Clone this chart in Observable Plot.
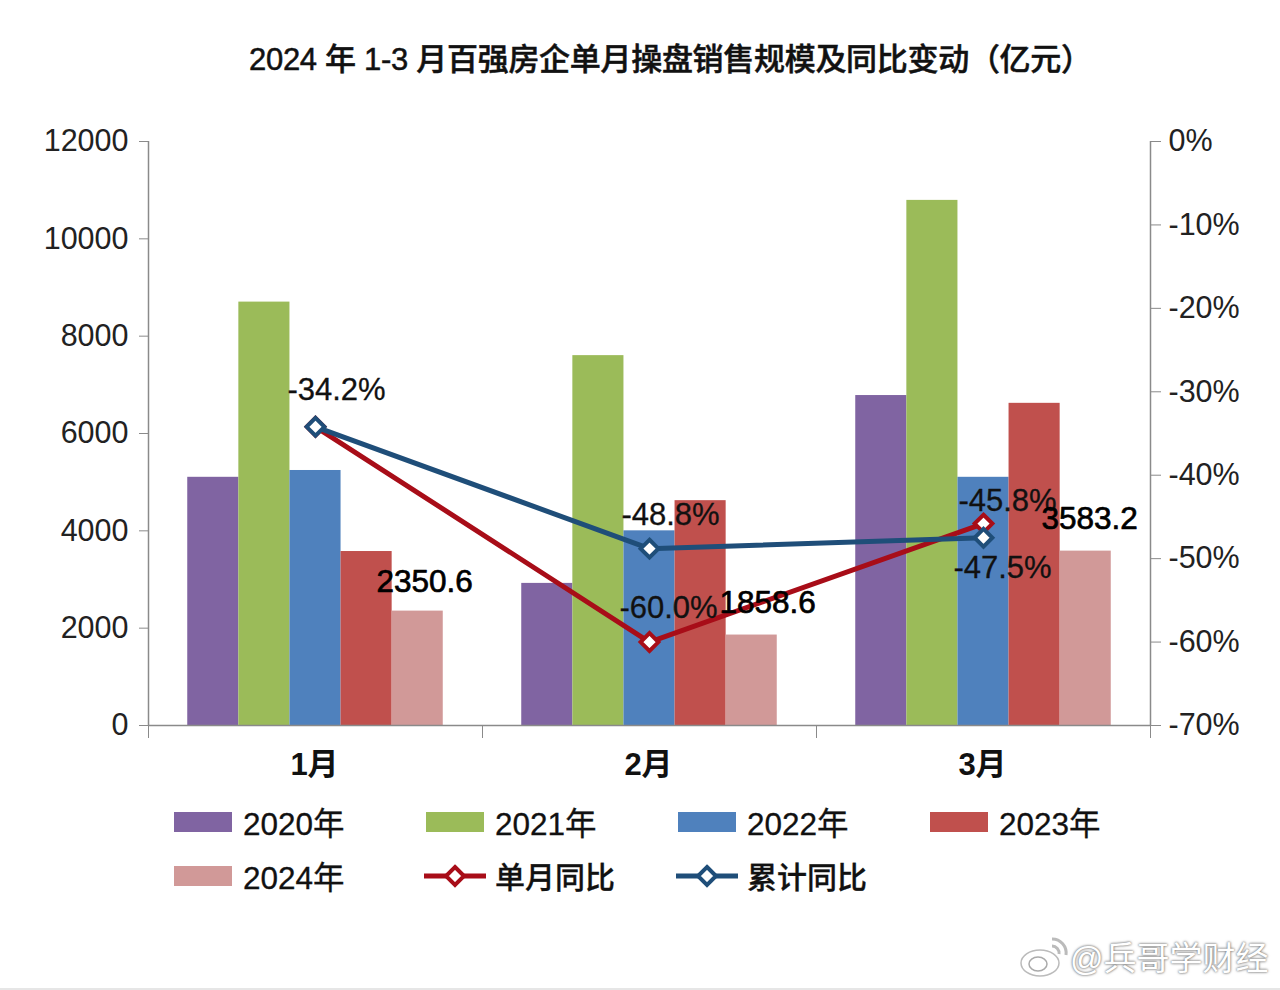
<!DOCTYPE html>
<html><head><meta charset="utf-8">
<script src="https://cdn.jsdelivr.net/npm/d3@7"></script>
<script src="https://cdn.jsdelivr.net/npm/@observablehq/plot@0.6"></script>
<style>
html,body{margin:0;padding:0;background:#fff;}
#page{position:relative;width:1280px;height:990px;overflow:hidden;font-family:"Liberation Sans","Noto Sans CJK SC",sans-serif;color:#111;}
#title{height:100px;box-sizing:border-box;padding-top:38px;padding-left:249px;font-size:31px;line-height:44px;font-weight:500;white-space:pre;font-family:"Liberation Sans","Noto Sans CJK SC",sans-serif;letter-spacing:-.3px;-webkit-text-stroke:.5px #111;}
#chart svg{display:block;}
#legend{position:relative;height:200px;}
.it{position:absolute;display:flex;align-items:center;height:36px;font-size:31.5px;white-space:nowrap;-webkit-text-stroke:.3px #111;}
.it span{position:relative;top:-1px;}
.sw{width:58px;height:20px;margin-right:11px;flex:none;}
.lsw{width:64px;height:30px;margin-right:8px;flex:none;display:block;}
#wm{position:absolute;left:1020px;top:934px;display:flex;align-items:center;height:44px;font-size:33px;color:#fff;text-shadow:0 0 3px #777,0 0 2px #888;white-space:nowrap;}
#bl{position:absolute;left:0;top:988px;width:1280px;height:2px;background:#e6e6e6;}
</style></head>
<body>
<div id="page">
<div id="title"></div>
<div id="chart"></div>
<div id="legend"></div>
<div id="wm"></div>
<div id="bl"></div>
</div>
<script>
const titleText = "2024 年 1-3 月百强房企单月操盘销售规模及同比变动（亿元）";
const months = ["1月","2月","3月"];
const years = ["2020年","2021年","2022年","2023年","2024年"];
const barColors = ["#8064A2","#9BBB59","#4F81BD","#C0504D","#D19998"];
const v2020 = [5100,2920,6780];
const v2021 = [8700,7600,10790];
const v2022 = [5240,4000,5100];
const v2023 = [3575,4620,6620];
const v2024 = [2350.6,1858.6,3583.2];
const singleYoY = [-34.2,-60.0,-45.8];
const cumYoY = [-34.2,-48.8,-47.5];
const leftTicks = [0,2000,4000,6000,8000,10000,12000];
const pctTicks = [-70,-60,-50,-40,-30,-20,-10,0];
const lineRed = "#A80D18", lineBlue = "#1F4E79";
const seriesNames = ["单月同比","累计同比"];

const FONT = '"Liberation Sans","Noto Sans CJK SC",sans-serif';
const yMax = 12000;
const pctToY = p => (p + 70) / 70 * yMax;
const yToPct = v => Math.round(v / yMax * 70 - 70);
const barW = 0.153;

const series = [v2020,v2021,v2022,v2023,v2024];
const bars = series.flatMap((vals,s) => vals.map((v,m) => ({
  x1: m + (s - 2.5) * barW, x2: m + (s - 1.5) * barW, v, year: years[s], m, s
})));
const redPts = singleYoY.map((p,m) => ({m, p, y: pctToY(p)}));
const bluePts = cumYoY.map((p,m) => ({m, p, y: pctToY(p)}));
const pctLabel = p => p.toFixed(1) + "%";

const pctText = (pt, dx, dy) => Plot.text([pt], {x:"m", y:"y", text:d=>pctLabel(d.p), dx, dy, fontSize:31, fill:"#111", stroke:"#111", strokeWidth:0.3});
const valText = (m, dx, dy) => Plot.text([bars.find(b => b.s===4 && b.m===m)], {
  x:d=>(d.x1+d.x2)/2, y:"v", text:d=>d.v.toFixed(1), dx, dy, fontSize:31.5, fill:"#000", stroke:"#000", strokeWidth:0.7
});

document.getElementById("title").textContent = titleText;

const plot = Plot.plot({
  width:1280, height:690,
  marginLeft:148, marginRight:130, marginTop:41, marginBottom:65,
  style:{fontFamily:FONT, fontSize:"30.5px", background:"transparent", overflow:"visible"},
  x:{type:"linear", domain:[-0.5,2.5]},
  y:{domain:[0,yMax]},
  color:{domain:years, range:barColors},
  marks:[
    Plot.rectY(bars,{x1:"x1",x2:"x2",y1:0,y2:"v",fill:"year"}),
    Plot.ruleY([0],{stroke:"#8a8a8a",strokeWidth:1.5}),
    Plot.ruleX([-0.5],{stroke:"#8a8a8a",strokeWidth:1.5}),
    Plot.ruleX([2.5],{stroke:"#8a8a8a",strokeWidth:1.5}),
    Plot.axisX({ticks:[-0.5,0.5,1.5,2.5],tickSize:13,tickFormat:()=>"",stroke:"#8a8a8a",label:null}),
    Plot.axisX({ticks:months.map((d,i)=>i),tickSize:0,tickPadding:27,tickFormat:i=>months[i],label:null,fill:"#111",fontWeight:"bold",fontSize:31,dx:-1}),
    Plot.axisY({anchor:"left",ticks:leftTicks,tickSize:9,tickPadding:11,label:null,stroke:"#8a8a8a",fill:"#222",tickFormat:d=>String(d)}),
    Plot.axisY({anchor:"right",ticks:pctTicks.map(pctToY),tickSize:10,tickPadding:8,label:null,stroke:"#8a8a8a",fill:"#222",tickFormat:v=>yToPct(v)+"%"}),
    Plot.line(redPts,{x:"m",y:"y",stroke:lineRed,strokeWidth:5}),
    Plot.dot(redPts,{x:"m",y:"y",symbol:"diamond2",r:8,stroke:lineRed,strokeWidth:4,fill:"#fff"}),
    Plot.line(bluePts,{x:"m",y:"y",stroke:lineBlue,strokeWidth:5}),
    Plot.dot(bluePts,{x:"m",y:"y",symbol:"diamond2",r:8,stroke:lineBlue,strokeWidth:4,fill:"#fff"}),
    pctText(bluePts[0],21,-37),
    pctText(bluePts[1],21,-34),
    pctText(redPts[1],19,-34),
    pctText(redPts[2],24,-23),
    pctText(bluePts[2],19,30),
    valText(0,7,-29),
    valText(1,16,-32),
    valText(2,4,-32)
  ]
});
document.getElementById("chart").appendChild(plot);

// legend below the SVG
const legend = d3.select("#legend");
const cols = [174,426,678,930];
const rows = [14,68];
years.forEach((y,i) => {
  const it = legend.append("div").attr("class","it")
    .style("left",cols[i%4]+"px").style("top",rows[Math.floor(i/4)]+"px");
  it.append("div").attr("class","sw").style("background",barColors[i]);
  it.append("span").text(y);
});
[[seriesNames[0],lineRed,1],[seriesNames[1],lineBlue,2]].forEach(([n,c,col]) => {
  const it = legend.append("div").attr("class","it")
    .style("left",(cols[col]-3)+"px").style("top",rows[1]+"px").style("font-weight","500").style("font-size","30px");
  const s = it.append("svg").attr("class","lsw").attr("viewBox","0 0 64 30");
  s.append("line").attr("x1",1).attr("x2",63).attr("y1",15).attr("y2",15).attr("stroke",c).attr("stroke-width",5);
  s.append("path").attr("d","M32 6L41 15L32 24L23 15Z").attr("fill","#fff").attr("stroke",c).attr("stroke-width",4);
  it.append("span").text(n);
});

// watermark
document.getElementById("wm").innerHTML =
 '<svg width="50" height="44" viewBox="0 0 50 44" style="margin-right:0"><ellipse cx="20" cy="29" rx="19" ry="13" fill="#fff" stroke="#bbb" stroke-width="1.5"/><ellipse cx="18" cy="30" rx="9" ry="7" fill="#fff" stroke="#aaa" stroke-width="1.5"/><path d="M32 5a14 14 0 0 1 14 16M32 12a7 7 0 0 1 7 8" fill="none" stroke="#bbb" stroke-width="3"/></svg><span>@兵哥学财经</span>';
</script>
</body></html>
